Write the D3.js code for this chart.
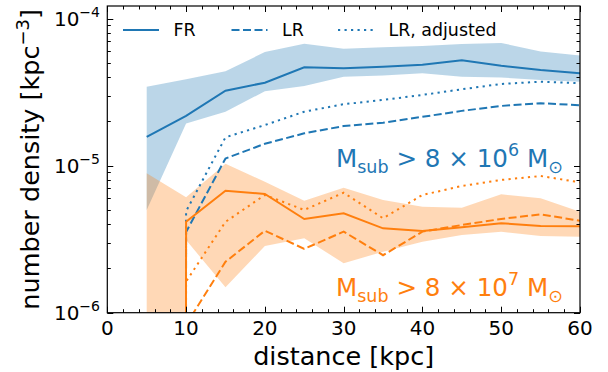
<!DOCTYPE html>
<html><head><meta charset="utf-8">
<script src="https://cdn.jsdelivr.net/npm/d3@7"></script>
<style>
html,body{margin:0;padding:0;background:#fff;}
text{font-family:"DejaVu Sans",sans-serif;fill:#000;}
</style></head>
<body>
<svg id="chart" width="608" height="372"></svg>
<script>
// ---- data ----
const distance = [5,10,15,20,25,30,35,40,45,50,55,60];
const xTicks = [0,10,20,30,40,50,60];
const yTickExponents = [-6,-5,-4];
const legendLabels = ["FR","LR","LR, adjusted"];

// M_sub > 8e6
const fr6   = [1.57e-5,2.18e-5,3.24e-5,3.67e-5,4.67e-5,4.60e-5,4.71e-5,4.87e-5,5.21e-5,4.79e-5,4.48e-5,4.25e-5];
const fr6Lo = [5.0e-6,1.94e-5,2.33e-5,3.21e-5,3.49e-5,4.03e-5,4.11e-5,4.25e-5,4.03e-5,3.98e-5,3.83e-5,3.73e-5];
const fr6Hi = [3.45e-5,3.87e-5,4.39e-5,5.93e-5,6.76e-5,6.25e-5,6.39e-5,6.52e-5,6.73e-5,6.84e-5,5.98e-5,5.62e-5];
const lr6   = [0,3.54e-6,1.12e-5,1.41e-5,1.66e-5,1.86e-5,1.96e-5,2.15e-5,2.36e-5,2.55e-5,2.66e-5,2.58e-5];
const lrAdj6= [0,4.9e-6,1.56e-5,1.89e-5,2.33e-5,2.62e-5,2.80e-5,3.03e-5,3.31e-5,3.60e-5,3.73e-5,3.64e-5];
// M_sub > 8e7
const fr7   = [0,4.16e-6,6.76e-6,6.42e-6,4.34e-6,4.74e-6,3.75e-6,3.59e-6,3.81e-6,4.06e-6,3.89e-6,3.87e-6];
const fr7Lo = [0,3.12e-6,1.49e-6,2.84e-6,3.21e-6,2.17e-6,2.60e-6,3.04e-6,3.38e-6,3.56e-6,3.32e-6,3.29e-6];
const fr7Hi = [8.88e-6,6.10e-6,1.03e-5,7.78e-6,5.78e-6,7.08e-6,5.84e-6,5.26e-6,5.18e-6,6.39e-6,6.00e-6,4.86e-6];
const lr7   = [0,8.3e-7,2.22e-6,3.61e-6,2.72e-6,3.56e-6,2.46e-6,3.56e-6,3.95e-6,4.34e-6,4.67e-6,4.22e-6];
const lrAdj7= [0,1.63e-6,4.15e-6,6.32e-6,5.0e-6,6.55e-6,4.39e-6,6.32e-6,7.28e-6,8.0e-6,8.51e-6,7.71e-6];

const blue = "#1f77b4", orange = "#ff7f0e";

// ---- layout ----
const L = 107.3, R = 580, T = 6, B = 312.7;
const svg = d3.select("#chart");
const x = d3.scaleLinear().domain([0,60]).range([L,R]);
const y = d3.scaleLog().domain([1e-6,1.22e-4]).range([B,T]);
const yv = v => y(Math.max(v,1e-300));

svg.append("defs").append("clipPath").attr("id","clip")
  .append("rect").attr("x",L).attr("y",T).attr("width",R-L).attr("height",B-T);
const plot = svg.append("g").attr("clip-path","url(#clip)");

function band(lo,hi,color){
  const area = d3.area().x((d,i)=>x(distance[i])).y0((d,i)=>yv(lo[i])).y1((d,i)=>yv(hi[i]));
  plot.append("path").attr("d",area(distance)).attr("fill",color).attr("fill-opacity",0.3).attr("stroke","none");
}
function line(vals,color,dash){
  const ln = d3.line().x((d,i)=>x(distance[i])).y((d,i)=>yv(vals[i]));
  plot.append("path").attr("d",ln(distance)).attr("fill","none").attr("stroke",color)
    .attr("stroke-width",2).attr("stroke-dasharray",dash||null);
}
const DASH = "8,3.5", DOT = "2.2,4.3";
band(fr6Lo,fr6Hi,blue);
band(fr7Lo,fr7Hi,orange);
line(fr6,blue); line(lr6,blue,DASH); line(lrAdj6,blue,DOT);
line(fr7,orange); line(lr7,orange,DASH); line(lrAdj7,orange,DOT);

// ---- frame & ticks ----
const ax = svg.append("g");
const tk = (x1,y1,x2,y2)=>ax.append("line").attr("x1",x1).attr("y1",y1).attr("x2",x2).attr("y2",y2)
  .attr("stroke","#000").attr("stroke-width",1);
const MAJ = 6, MIN = 3.5;
for(let v=0; v<=60; v+=2){
  const len = (v%10===0)?MAJ:MIN, px = Math.round(x(v))+0.5;
  tk(px,B,px,B-len); tk(px,T,px,T+len);
}
for(let e=-6; e<=-4; e++){
  for(let m=1; m<=9; m++){
    const v = m*Math.pow(10,e);
    if(v<1e-6 || v>1.22e-4) continue;
    const len = (m===1)?MAJ:MIN, py = Math.round(y(v))+0.5;
    tk(L,py,L+len,py); tk(R,py,R-len,py);
  }
}
ax.append("rect").attr("x",L).attr("y",T).attr("width",R-L).attr("height",B-T)
  .attr("fill","none").attr("stroke","#000").attr("stroke-width",1.2);

// x tick labels
xTicks.forEach(v=>{
  svg.append("text").attr("x",x(v)).attr("y",334.5).attr("text-anchor","middle")
    .attr("font-size",20).text(v);
});
// y tick labels
yTickExponents.forEach(e=>{
  const t = svg.append("text").attr("x",100).attr("y",y(Math.pow(10,e))+7).attr("text-anchor","end").attr("font-size",20);
  t.append("tspan").text("10");
  t.append("tspan").attr("font-size",14).attr("dy",-9).text("\u2212"+(-e));
});

// axis labels
svg.append("text").attr("x",(L+R)/2).attr("y",365).attr("text-anchor","middle").attr("font-size",25.5).text("distance [kpc]");
const yl = svg.append("text").attr("transform",`translate(39,${(T+B)/2}) rotate(-90)`).attr("text-anchor","middle").attr("font-size",25.5);
yl.append("tspan").text("number density [kpc");
yl.append("tspan").attr("font-size",18).attr("dy",-10).text("\u22123");
yl.append("tspan").attr("dy",10).text("]");

// legend
const leg = [{lab:legendLabels[0],dash:null,x0:123},{lab:legendLabels[1],dash:DASH,x0:231.5},{lab:legendLabels[2],dash:DOT,x0:338}];
leg.forEach(d=>{
  svg.append("line").attr("x1",d.x0).attr("x2",d.x0+36).attr("y1",30).attr("y2",30)
    .attr("stroke",blue).attr("stroke-width",2).attr("stroke-dasharray",d.dash);
  svg.append("text").attr("x",d.x0+50.5).attr("y",36).attr("font-size",17.4).text(d.lab);
});

// annotations
function annot(yb,exp,color){
  const t = svg.append("text").attr("x",336).attr("y",yb).attr("font-size",24.6).style("fill",color);
  t.append("tspan").text("M");
  t.append("tspan").attr("font-size",17.5).attr("dy",6).text("sub");
  t.append("tspan").attr("dy",-6).text(" > 8 \u00d7 10");
  t.append("tspan").attr("font-size",17.5).attr("dy",-11).text(exp);
  t.append("tspan").attr("dy",11).text(" M");
  t.append("tspan").attr("font-size",17.5).attr("dy",6).text("\u2299");
}
annot(166.5,"6",blue);
annot(296,"7",orange);
</script>
</body></html>
